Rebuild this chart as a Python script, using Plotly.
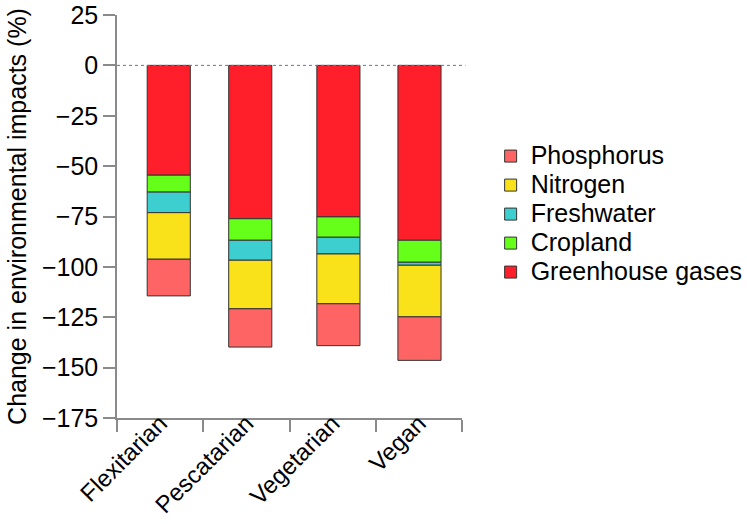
import plotly.graph_objects as go

diets = ["Flexitarian", "Pescatarian", "Vegetarian", "Vegan"]
greenhouse = [-54.5, -76.1, -75.2, -86.8]
cropland = [-8.4, -10.7, -10.1, -10.9]
freshwater = [-10.2, -9.9, -8.3, -1.5]
nitrogen = [-23.1, -24.1, -24.7, -25.6]
phosphorus = [-18.2, -19.0, -20.8, -21.6]

y_ticks = [25, 0, -25, -50, -75, -100, -125, -150, -175]

# bar placement within each category slot (layout, not data)
bar_offsets = [-0.15, -0.205, -0.183, -0.243]

series = [
    ("Greenhouse gases", greenhouse, "#ff1f2a"),
    ("Cropland", cropland, "#66ff1a"),
    ("Freshwater", freshwater, "#3dcfcf"),
    ("Nitrogen", nitrogen, "#f9e21a"),
    ("Phosphorus", phosphorus, "#ff6464"),
]

FONT = "Liberation Sans, Arial, sans-serif"

fig = go.Figure()
for name, vals, color in series:
    fig.add_trace(go.Bar(
        x=diets, y=vals,
        name='<span style="font-size:25px">' + name + '</span>',
        marker=dict(color=color, line=dict(color="#333333", width=1)),
        width=0.5, offset=bar_offsets,
    ))

fig.add_shape(type="line", xref="paper", yref="y", x0=0, x1=1.01, y0=0, y1=0,
              line=dict(color="#5b7c99", width=1, dash="dot"))

axis_col = "#8a8a8a"
fig.update_layout(
    width=747, height=524,
    barmode="relative",
    plot_bgcolor="white", paper_bgcolor="white",
    font=dict(family=FONT, color="black", size=25),
    margin=dict(l=117, r=285, t=15, b=106, autoexpand=False),
    showlegend=True,
    legend=dict(
        traceorder="reversed", x=1.083, y=0.506, xanchor="left", yanchor="middle",
        font=dict(size=20, family=FONT), bgcolor="rgba(0,0,0,0)",
    ),
    xaxis=dict(
        type="category", range=[-0.5, 3.5], automargin=False,
        showline=True, linecolor=axis_col, linewidth=1.5,
        ticks="outside", tickson="boundaries", ticklen=12, tickcolor=axis_col, tickwidth=1.5,
        tickangle=-45, tickfont=dict(size=24, family=FONT),
        ticklabelstandoff=-20,
        showgrid=False, zeroline=False,
    ),
    yaxis=dict(
        range=[-175, 25], tickvals=y_ticks, automargin=False,
        showline=True, linecolor=axis_col, linewidth=1.5,
        ticks="outside", ticklen=12, tickcolor=axis_col, tickwidth=1.5,
        tickfont=dict(size=25, family=FONT),
        showgrid=False, zeroline=False,
        title=dict(text="Change in environmental impacts (%)", font=dict(size=25, family=FONT), standoff=8),
    ),
)

# remove the default 8px page margin so the figure fills the window exactly
fig.write_html("out.html", config={"displayModeBar": False},
               post_script="document.body.style.margin='0';")
